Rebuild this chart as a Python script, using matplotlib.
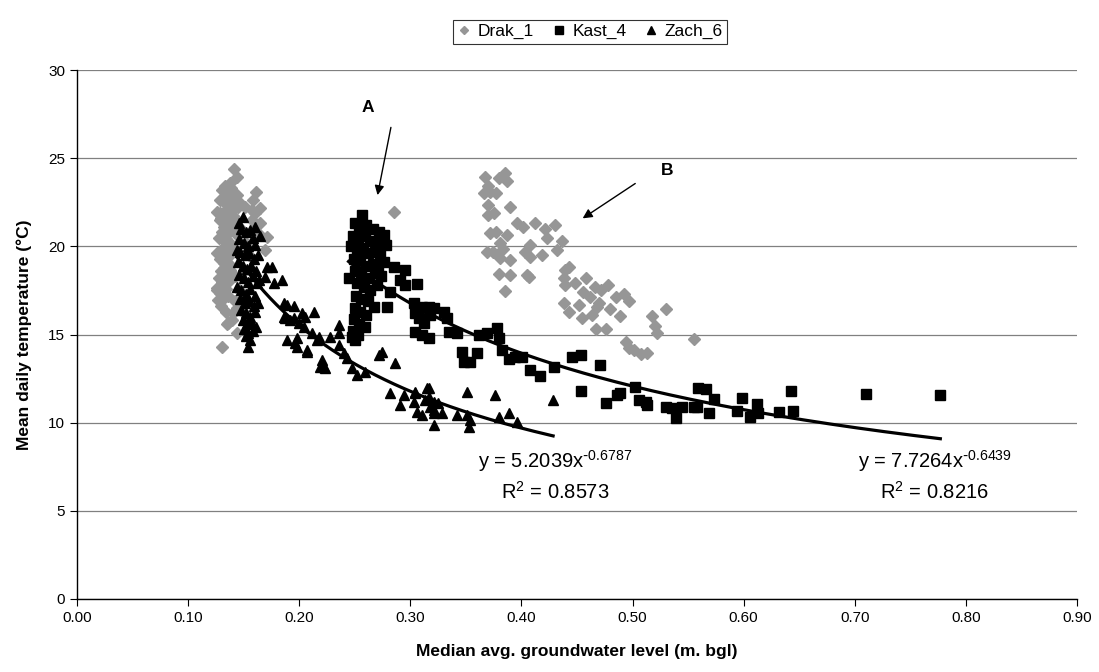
import numpy as np
import matplotlib.pyplot as plt

plt.rcParams['font.family'] = ['Liberation Sans', 'DejaVu Sans']
plt.rcParams['mathtext.default'] = 'regular'
plt.rcParams['axes.unicode_minus'] = False

# Drak_1 (grey diamonds)
drak_x = [0.1417, 0.1439, 0.1378, 0.1613, 0.1304, 0.1349, 0.1319, 0.1288, 0.1378, 0.1333,
          0.1423, 0.1468, 0.1649, 0.1258, 0.1288, 0.1349, 0.1408, 0.1453, 0.1514, 0.1574,
          0.1288, 0.1349, 0.1439, 0.1574, 0.1649, 0.1304, 0.1363, 0.1408, 0.1633, 0.1709,
          0.1319, 0.1378, 0.1349, 0.1694, 0.1258, 0.1288, 0.1349, 0.1319, 0.1349, 0.1378,
          0.1333, 0.1363, 0.1378, 0.1333, 0.1288, 0.1258, 0.1288, 0.1319, 0.1273, 0.1273,
          0.1333, 0.1319, 0.1378, 0.1304, 0.1258, 0.1288, 0.1319, 0.1439, 0.1408, 0.1394,
          0.1363, 0.1439, 0.1304, 0.1350, 0.1420, 0.1480, 0.1520, 0.1550, 0.1500, 0.1460,
          0.1490, 0.1530, 0.1410, 0.1440, 0.1330, 0.1390, 0.1360, 0.1400, 0.1300, 0.1320,
          0.1280, 0.1340, 0.1310, 0.1290, 0.1360, 0.1300, 0.1280, 0.1340, 0.1360, 0.1300,
          0.1340, 0.1420, 0.1400, 0.1430, 0.1580, 0.1600,
          0.2850,
          0.3676, 0.3856, 0.3870, 0.3796, 0.3660, 0.3720, 0.3770, 0.3700, 0.3700, 0.3900,
          0.3700, 0.3750, 0.3960, 0.4010, 0.4126, 0.4216, 0.4306, 0.3720, 0.3770, 0.3870,
          0.4230, 0.4367, 0.3810, 0.3830, 0.3690, 0.3740, 0.4080, 0.4036, 0.4080, 0.4186,
          0.4320, 0.3810, 0.3900, 0.3796, 0.3900, 0.4050, 0.4066, 0.3856, 0.4396, 0.4426,
          0.4380, 0.4396, 0.4486, 0.4380, 0.4426, 0.4516, 0.4546, 0.4636, 0.4680, 0.4800,
          0.4890, 0.4667, 0.4763, 0.5177, 0.5297, 0.5198, 0.5222, 0.4937, 0.4967, 0.5012,
          0.5072, 0.5132, 0.5552, 0.4550, 0.4620, 0.4660, 0.4720, 0.4780, 0.4850, 0.4920,
          0.4970, 0.4580, 0.4700]
drak_y = [24.39, 23.95, 23.61, 23.10, 23.20, 23.10, 22.82, 22.63, 22.63, 22.44,
          22.54, 22.44, 22.16, 21.97, 21.88, 21.97, 22.06, 22.25, 22.25, 22.06,
          21.50, 21.31, 21.50, 21.50, 21.31, 20.83, 20.74, 21.12, 20.74, 20.55,
          20.36, 20.18, 19.98, 19.80, 19.60, 19.70, 19.60, 19.04, 18.85, 18.95,
          18.47, 18.38, 18.09, 17.90, 17.71, 17.53, 17.34, 17.06, 16.96, 19.60,
          19.23, 18.76, 18.66, 18.00, 17.62, 17.43, 17.15, 16.49, 16.20, 15.83,
          15.64, 15.07, 14.31, 15.60, 16.90, 21.00, 20.20, 19.50, 18.60, 17.50,
          16.30, 15.80, 23.00, 22.90, 23.40, 23.30, 22.20, 21.70, 21.60, 21.10,
          20.50, 20.40, 19.90, 19.30, 19.40, 18.60, 18.20, 17.60, 17.20, 16.60,
          16.30, 18.30, 19.90, 20.70, 22.60, 21.90,
          21.97,
          23.95, 24.18, 23.73, 23.86, 23.00, 23.10, 23.00, 23.40, 22.35, 22.25,
          21.80, 21.90, 21.30, 21.10, 21.35, 21.00, 21.20, 20.74, 20.83, 20.65,
          20.46, 20.32, 20.18, 19.84, 19.70, 19.70, 20.08, 19.70, 19.42, 19.51,
          19.80, 19.32, 19.23, 18.42, 18.38, 18.38, 18.28, 17.47, 18.66, 18.85,
          18.19, 17.81, 17.90, 16.77, 16.30, 16.68, 15.92, 16.10, 16.58, 16.43,
          16.05, 15.30, 15.30, 16.05, 16.43, 15.48, 15.07, 14.60, 14.22, 14.12,
          13.90, 13.97, 14.73, 17.40, 17.10, 17.70, 17.50, 17.80, 17.10, 17.30,
          16.90, 18.20, 16.80]

# Kast_4 (black squares)
kast_x = [0.2565, 0.2500, 0.2540, 0.2600, 0.2660, 0.2720, 0.2760, 0.2480, 0.2530, 0.2590,
          0.2640, 0.2700, 0.2780, 0.2470, 0.2520, 0.2570, 0.2620, 0.2680, 0.2730, 0.2760,
          0.2444, 0.2490, 0.2550, 0.2600, 0.2660, 0.2710, 0.2500, 0.2560, 0.2620, 0.2680,
          0.2740, 0.2520, 0.2580, 0.2640, 0.2700, 0.2820, 0.2510, 0.2560, 0.2620, 0.2670,
          0.2790, 0.2500, 0.2550, 0.2600, 0.2490, 0.2540, 0.2590, 0.2480, 0.2475, 0.2505,
          0.2530, 0.2850, 0.2955, 0.2910, 0.2955, 0.3060, 0.3030, 0.3105, 0.3165, 0.3210,
          0.3300, 0.3330, 0.3045, 0.3075, 0.3120, 0.3180, 0.3045, 0.3105, 0.3165, 0.3345,
          0.3420, 0.3615, 0.3690, 0.3780, 0.3795, 0.3465, 0.3600, 0.3480, 0.3540, 0.3826,
          0.3886, 0.3946, 0.4006, 0.4080, 0.4170, 0.4297, 0.4457, 0.4532, 0.4532, 0.4710,
          0.4757, 0.4862, 0.4890, 0.5020, 0.5057, 0.5117, 0.5132, 0.5297, 0.5357, 0.5447,
          0.5387, 0.5552, 0.5583, 0.5592, 0.5658, 0.5733, 0.5688, 0.5937, 0.5988, 0.6057,
          0.6117, 0.6129, 0.6318, 0.6430, 0.6447, 0.7100, 0.7770]
kast_y = [21.78, 21.30, 21.00, 21.20, 21.00, 20.80, 20.65, 20.60, 20.40, 20.60,
          20.30, 20.20, 20.10, 20.00, 19.80, 19.90, 19.60, 19.70, 19.50, 19.13,
          18.19, 19.30, 19.20, 18.90, 19.00, 18.80, 18.60, 18.40, 18.20, 18.50,
          18.30, 17.90, 17.70, 17.50, 17.80, 17.43, 17.20, 17.00, 16.90, 16.58,
          16.58, 16.50, 16.30, 16.10, 15.90, 15.60, 15.40, 15.20, 14.88, 14.70,
          15.00, 18.85, 18.66, 18.09, 17.81, 17.87, 16.77, 16.58, 16.58, 16.49,
          16.30, 15.92, 16.20, 15.92, 15.64, 16.10, 15.16, 14.97, 14.79, 15.16,
          15.07, 14.97, 15.07, 15.35, 14.79, 14.03, 13.97, 13.46, 13.46, 14.12,
          13.60, 13.71, 13.71, 12.99, 12.65, 13.18, 13.74, 13.84, 11.82, 13.27,
          11.10, 11.57, 11.70, 12.01, 11.29, 11.19, 11.00, 10.91, 10.82, 10.91,
          10.25, 10.91, 10.87, 11.95, 11.90, 11.33, 10.53, 10.66, 11.38, 10.34,
          11.06, 10.57, 10.63, 11.82, 10.66, 11.65, 11.55]

# Zach_6 (black triangles)
zach_x = [0.1498, 0.1604, 0.1480, 0.1520, 0.1560, 0.1580, 0.1460, 0.1500, 0.1540, 0.1600,
          0.1470, 0.1510, 0.1550, 0.1590, 0.1630, 0.1450, 0.1490, 0.1530, 0.1570, 0.1610,
          0.1460, 0.1500, 0.1540, 0.1580, 0.1620, 0.1439, 0.1480, 0.1520, 0.1560, 0.1600,
          0.1470, 0.1510, 0.1550, 0.1590, 0.1630, 0.1480, 0.1520, 0.1560, 0.1600, 0.1490,
          0.1530, 0.1570, 0.1610, 0.1500, 0.1540, 0.1580, 0.1559, 0.1543, 0.1520, 0.1650,
          0.1640, 0.1439, 0.1460,
          0.1710, 0.1754, 0.1694, 0.1769, 0.1844, 0.1859, 0.1889, 0.1949, 0.1859, 0.1919,
          0.1874, 0.1949, 0.2024, 0.2054, 0.2129, 0.1994, 0.2039, 0.1889, 0.1979, 0.1964,
          0.1979, 0.2069, 0.2069, 0.2114, 0.2174, 0.2159, 0.2190, 0.2204, 0.2219, 0.2234,
          0.2279, 0.2354, 0.2354, 0.2354, 0.2399, 0.2429, 0.2474, 0.2520, 0.2595, 0.2714,
          0.2745, 0.2865, 0.2820, 0.2940, 0.2910, 0.3030, 0.3045, 0.3150, 0.3165, 0.3060,
          0.3105, 0.3210, 0.3210, 0.3180, 0.3245, 0.3045, 0.3165, 0.3135, 0.3210, 0.3210,
          0.3285, 0.3420, 0.3510, 0.3540, 0.3525, 0.3510, 0.3766, 0.3795, 0.3886, 0.3960,
          0.4285]
zach_y = [21.68, 21.12, 21.00, 20.80, 20.90, 20.50, 20.40, 20.20, 20.00, 20.10,
          19.70, 19.50, 19.60, 19.30, 19.50, 19.10, 18.90, 18.70, 18.90, 18.60,
          18.40, 18.20, 18.00, 18.30, 17.90, 17.71, 17.50, 17.30, 17.60, 17.20,
          17.00, 16.80, 16.90, 16.60, 16.80, 16.40, 16.20, 16.00, 16.30, 15.80,
          15.60, 15.70, 15.40, 15.30, 15.10, 15.20, 14.69, 14.31, 14.90, 20.60,
          18.10, 19.80, 21.30,
          18.85, 18.80, 18.28, 17.90, 18.09, 16.77, 16.68, 16.62, 16.01, 15.83,
          15.92, 15.92, 16.20, 16.01, 16.30, 15.64, 15.45, 14.69, 14.79, 14.50,
          14.31, 14.12, 14.03, 15.07, 14.88, 14.69, 13.18, 13.56, 13.18, 13.09,
          14.88, 15.54, 15.07, 14.41, 13.94, 13.65, 13.09, 12.71, 12.89, 13.84,
          14.03, 13.40, 11.67, 11.57, 11.00, 11.19, 11.67, 11.95, 11.47, 10.63,
          10.44, 10.53, 9.87, 10.90, 11.10, 11.76, 11.95, 11.29, 11.19, 10.72,
          10.53, 10.44, 10.44, 10.15, 9.77, 11.76, 11.57, 10.34, 10.53, 10.06,
          11.29]

# power trendlines as printed on the chart
zach_fit = (5.2039, -0.6787, 0.8573)
kast_fit = (7.7264, -0.6439, 0.8216)

fig = plt.figure(figsize=(10.99, 6.72), dpi=100)
ax = fig.add_axes([77/1099, 1 - 599/672, 1000/1099, 529/672])

ax.plot(drak_x, drak_y, 'D', color='#969696', ms=6, mec='#969696', label='Drak_1', zorder=3)
ax.plot(kast_x, kast_y, 's', color='black', ms=6.8, label='Kast_4', zorder=4)
ax.plot(zach_x, zach_y, '^', color='black', ms=7.5, label='Zach_6', zorder=5)

for xs, (a, b, r2) in [(zach_x, zach_fit), (kast_x, kast_fit)]:
    xx = np.linspace(min(xs), max(xs), 200)
    ax.plot(xx, a * xx ** b, color='black', lw=2.3, zorder=6)

ax.set_xlim(0, 0.9)
ax.set_ylim(0, 30)
ax.set_xticks(np.arange(0, 0.91, 0.1))
ax.set_xticklabels(['%.2f' % v for v in np.arange(0, 0.91, 0.1)])
ax.set_yticks(range(0, 31, 5))
ax.tick_params(labelsize=11, direction='out', length=5, width=0.8, color='black')
ax.yaxis.grid(True, color='#808080', lw=0.9)
ax.set_axisbelow(True)
for s in ['top', 'right']:
    ax.spines[s].set_visible(False)
for s in ['left', 'bottom']:
    ax.spines[s].set_linewidth(1.0)

ax.set_xlabel('Median avg. groundwater level (m. bgl)', fontsize=12.5, fontweight='bold', labelpad=14)
ax.set_ylabel('Mean daily temperature (°C)', fontsize=12.5, fontweight='bold', labelpad=12)


def eq_text(a, b):
    return r'y = %.4fx$^{\text{-}%.4f}$' % (a, abs(b))


# trendline equations
ax.text(0.4306, 7.85, eq_text(*zach_fit[:2]), fontsize=14.5, ha='center', va='center')
ax.text(0.4306, 6.05, 'R$^2$ = %.4f' % zach_fit[2], fontsize=14.5, ha='center', va='center')
ax.text(0.772, 7.85, eq_text(*kast_fit[:2]), fontsize=14.5, ha='center', va='center')
ax.text(0.772, 6.05, 'R$^2$ = %.4f' % kast_fit[2], fontsize=14.5, ha='center', va='center')

# annotations A and B
ax.annotate('', xy=(0.270, 22.75), xytext=(0.283, 26.9),
            arrowprops=dict(arrowstyle='-|>', color='black', lw=1.0, mutation_scale=14))
ax.text(0.262, 27.85, 'A', fontsize=12.5, fontweight='bold', ha='center', va='center')
ax.annotate('', xy=(0.453, 21.5), xytext=(0.5045, 23.65),
            arrowprops=dict(arrowstyle='-|>', color='black', lw=1.0, mutation_scale=14))
ax.text(0.5315, 24.3, 'B', fontsize=12.5, fontweight='bold', ha='center', va='center')

leg = fig.legend(loc='upper center', bbox_to_anchor=(590/1099, 1 - 11/672), ncol=3,
                 fontsize=12.5, frameon=True, fancybox=False, edgecolor='black',
                 handlelength=0.8, handletextpad=0.4, columnspacing=1.0,
                 borderpad=0.25, markerscale=0.75)
leg.get_frame().set_linewidth(0.8)

fig.savefig('out.png', dpi=100)
